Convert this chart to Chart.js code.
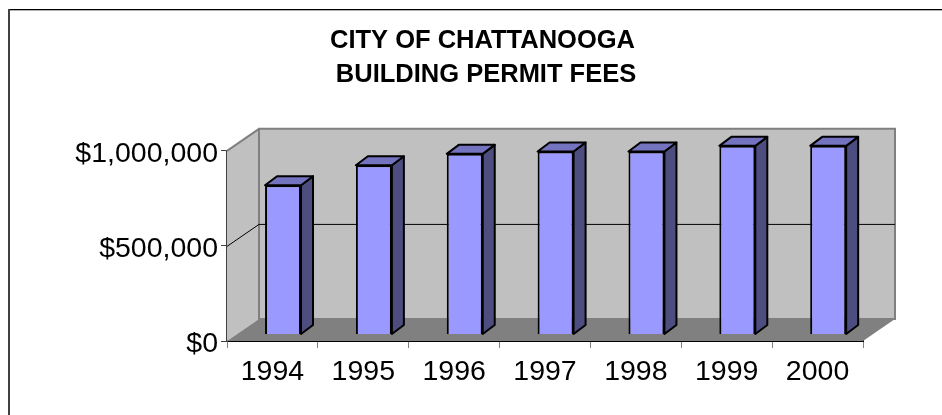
<!DOCTYPE html>
<html>
<head>
<meta charset="utf-8">
<title>City of Chattanooga Building Permit Fees</title>
<script src="https://cdn.jsdelivr.net/npm/chart.js@4/dist/chart.umd.min.js"></script>
<style>
  html, body { margin: 0; padding: 0; background: #fff; }
  canvas { display: block; }
</style>
</head>
<body>
<canvas id="permitChart" width="942" height="415"></canvas>
<script>
// Data
const years = ['1994', '1995', '1996', '1997', '1998', '1999', '2000'];
const permitFees = [785000, 890000, 950000, 962000, 962000, 992000, 992000];
const yTicks = [0, 500000, 1000000];
const titleLines = ['CITY OF CHATTANOOGA', ' BUILDING PERMIT FEES'];

// Old spreadsheet 3D look
const WALL = '#C0C0C0';
const WALL_EDGE = '#808080';
const FLOOR = '#808080';
const BAR_FRONT = '#9999FF';
const BAR_SIDE = '#4D4D80';
const BAR_TOP = '#7373BF';

const DEPTH_X = 32, DEPTH_Y = 22;         // front plane to back wall
const BAR_SHIFT_X = 10.6, BAR_SHIFT_Y = 6.5; // bars stand a bit inside the floor
const BAR_DEPTH_X = 12, BAR_DEPTH_Y = 9;
const TITLE_SHIFT = 21;                   // title sits right of the padded middle
const Y_LABEL_DROP = 3;                   // y labels sit a little under their ticks

function poly(ctx, pts, fill, stroke, lw) {
    ctx.beginPath();
    pts.forEach((p, i) => i ? ctx.lineTo(p[0], p[1]) : ctx.moveTo(p[0], p[1]));
    ctx.closePath();
    if (fill) { ctx.fillStyle = fill; ctx.fill(); }
    if (stroke) { ctx.strokeStyle = stroke; ctx.lineWidth = lw; ctx.stroke(); }
}

const frame3d = {
    id: 'frame3d',
    afterLayout(chart) {
        chart.titleBlock.left += TITLE_SHIFT;
        chart.titleBlock.right += TITLE_SHIFT;
    },
    beforeDraw(chart) {
        const ctx = chart.ctx;
        // only top and left of the outer frame are visible
        ctx.save();
        ctx.fillStyle = '#000000';
        ctx.fillRect(8, 9, 934, 1);
        ctx.fillStyle = '#B0B0B0';
        ctx.fillRect(9, 10, 933, 1);
        ctx.fillStyle = '#404040';
        ctx.fillRect(8, 9, 2, 406);
        ctx.restore();
    },
    beforeDatasetsDraw(chart) {
        const ctx = chart.ctx;
        const { left, right, top, bottom } = chart.chartArea;
        const bx = DEPTH_X, by = DEPTH_Y;

        ctx.save();
        // side wall
        poly(ctx, [[left, top], [left + bx, top - by], [left + bx, bottom - by], [left, bottom]], WALL);
        // back wall
        poly(ctx, [[left + bx, top - by], [right + bx, top - by], [right + bx, bottom - by], [left + bx, bottom - by]], WALL, WALL_EDGE, 2);
        // floor
        poly(ctx, [[left, bottom], [left + bx, bottom - by], [right + bx, bottom - by], [right, bottom]], FLOOR);
        // slanted top edge of the side wall
        ctx.strokeStyle = WALL_EDGE;
        ctx.lineWidth = 2;
        ctx.beginPath();
        ctx.moveTo(left, top);
        ctx.lineTo(left + bx, top - by);
        ctx.stroke();

        // gridline at the middle tick, runs over side wall and back wall
        const y = chart.scales.y.getPixelForValue(yTicks[1]) + 0.5;
        ctx.strokeStyle = '#000000';
        ctx.lineWidth = 1;
        ctx.beginPath();
        ctx.moveTo(left, y);
        ctx.lineTo(left + bx, y - by);
        ctx.lineTo(right + bx, y - by);
        ctx.stroke();
        ctx.restore();
    },
    beforeDatasetDraw(chart) {
        const ctx = chart.ctx;
        ctx.save();
        ctx.translate(BAR_SHIFT_X, -BAR_SHIFT_Y);
        // side and top faces of each bar, taken from the bar elements
        ctx.lineJoin = 'round';
        chart.getDatasetMeta(0).data.forEach(bar => {
            const l = bar.x - bar.width / 2, r = bar.x + bar.width / 2;
            const t = bar.y, b = bar.base;
            poly(ctx, [[r, t], [r + BAR_DEPTH_X, t - BAR_DEPTH_Y], [r + BAR_DEPTH_X, b - BAR_DEPTH_Y], [r, b]], BAR_SIDE, '#000000', 2);
            poly(ctx, [[l, t], [l + BAR_DEPTH_X, t - BAR_DEPTH_Y], [r + BAR_DEPTH_X, t - BAR_DEPTH_Y], [r, t]], BAR_TOP, '#000000', 2);
        });
    },
    afterDatasetDraw(chart) {
        chart.ctx.restore();
    }
};

// Chart.js has no option for a vertical label offset
function dropLabels(scale) {
    if (scale.labelsDropped) return;
    scale.labelsDropped = true;
    const drawLabels = scale.drawLabels;
    scale.drawLabels = function(area) {
        this.ctx.save();
        this.ctx.translate(0, Y_LABEL_DROP);
        drawLabels.call(this, area);
        this.ctx.restore();
    };
}

new Chart(document.getElementById('permitChart'), {
    type: 'bar',
    data: {
        labels: years,
        datasets: [{
            data: permitFees,
            backgroundColor: BAR_FRONT,
            borderColor: '#000000',
            borderWidth: 2,
            barPercentage: 0.396,
            categoryPercentage: 1,
            clip: false
        }]
    },
    options: {
        responsive: false,
        animation: false,
        layout: { padding: { left: 60, right: 79, top: 0, bottom: 0 } },
        plugins: {
            legend: { display: false },
            tooltip: { enabled: false },
            title: {
                display: true,
                text: titleLines,
                color: '#000000',
                font: { family: '"Liberation Sans", Arial, sans-serif', size: 25.5, weight: 'bold', lineHeight: 1.33 },
                padding: { top: 24, bottom: 59 }
            }
        },
        scales: {
            x: {
                afterFit(scale) { scale.height = 74; },
                border: { color: '#000000', width: 2 },
                grid: { drawOnChartArea: false, drawTicks: true, tickLength: 7, color: '#808080', offset: true },
                ticks: {
                    color: '#000000',
                    maxRotation: 0,
                    padding: 7,
                    font: { family: '"Liberation Sans", Arial, sans-serif', size: 28.5 }
                }
            },
            y: {
                min: 0,
                max: 1000000,
                afterFit(scale) { scale.width = 167; dropLabels(scale); },
                afterBuildTicks(scale) { scale.ticks = yTicks.map(v => ({ value: v })); },
                border: { color: '#404040', width: 2 },
                grid: { drawOnChartArea: false, drawTicks: true, tickLength: 6, color: '#404040' },
                ticks: {
                    color: '#000000',
                    padding: 3,
                    callback: v => '$' + v.toLocaleString('en-US'),
                    font: { family: '"Liberation Sans", Arial, sans-serif', size: 28.5 }
                }
            }
        }
    },
    plugins: [frame3d]
});
</script>
</body>
</html>
